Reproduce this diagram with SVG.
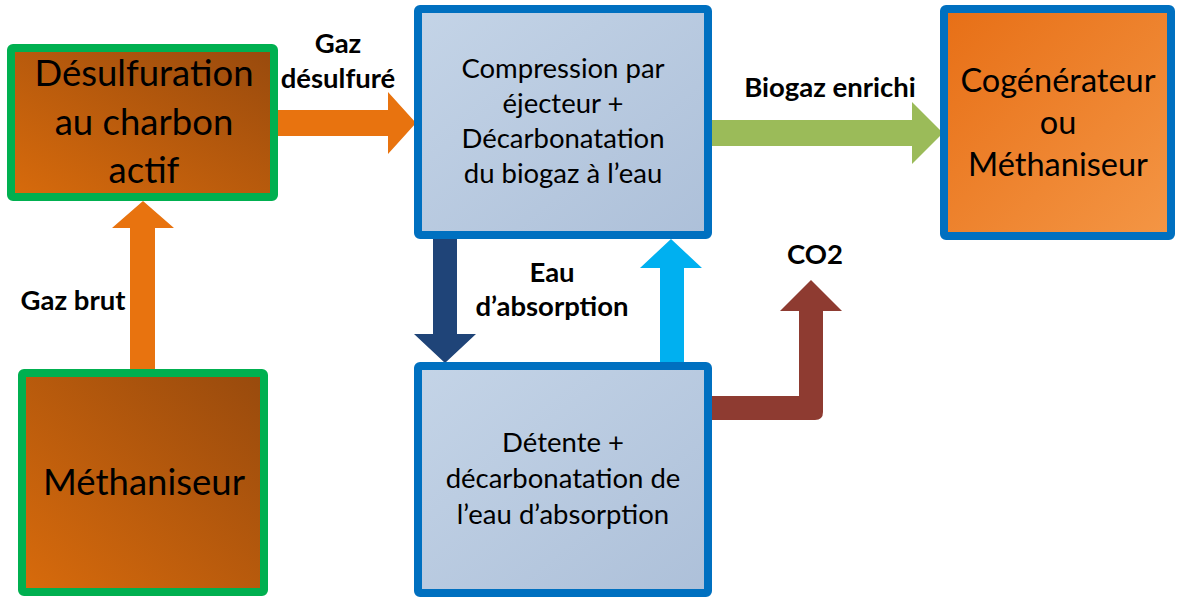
<svg xmlns="http://www.w3.org/2000/svg" width="1180" height="604" viewBox="0 0 1180 604">
<defs>
<linearGradient id="gBrown" x1="0" y1="1" x2="1" y2="0">
<stop offset="0" stop-color="#d86b0c"/>
<stop offset="1" stop-color="#984a0d"/>
</linearGradient>
<linearGradient id="gOrange" x1="0" y1="0" x2="1" y2="1">
<stop offset="0" stop-color="#e76f16"/>
<stop offset="1" stop-color="#f49645"/>
</linearGradient>
<linearGradient id="gBlue" x1="0" y1="0" x2="1" y2="1">
<stop offset="0" stop-color="#c4d4e7"/>
<stop offset="1" stop-color="#adc0d9"/>
</linearGradient>
<style>
.green{stroke:#00b050;stroke-width:8}
.blue{stroke:#0070c0;stroke-width:8}
text{font-family:Lato,"Liberation Sans",sans-serif;fill:#000;text-anchor:middle}
.big{font-size:36.5px}
.cog{font-size:32.5px}
.mid{font-size:27.5px}
.lbl{font-size:27.5px;font-weight:bold}
</style>
</defs>
<g id="connectors">
<polygon id="gaz-brut" fill="#e8730f" points="130,369 155,369 155,228 174,228 143,201 112,228 130,228"/>
<polygon id="gaz-desulfure" fill="#e8730f" points="278,110 388,110 388,92 416,123 388,154 388,136 278,136"/>
<polygon id="biogaz-enrichi" fill="#9bbb59" points="712,120 912,120 912,102 943,133 912,164 912,146 712,146"/>
<polygon id="eau-down" fill="#1f4478" points="433,239 457,239 457,334 476,334 445,363 414,334 433,334"/>
<polygon id="eau-up" fill="#00b0f0" points="660,362 684,362 684,268 702,268 671,239 640,268 660,268"/>
<path id="co2" fill="#8e3b31" d="M712,396 L799,396 L799,311 L780,311 L811,280 L842,311 L823,311 L823,412 Q823,420 815,420 L712,420 Z"/>
</g>
<g id="desulfuration">
<rect x="11" y="48" width="263" height="149" rx="2" fill="url(#gBrown)" class="green"/>
<text class="big" x="144" y="86">Désulfuration</text>
<text class="big" x="144" y="135">au charbon</text>
<text class="big" x="144" y="183">actif</text>
</g>
<g id="methaniseur">
<rect x="22" y="373" width="242" height="219" rx="2" fill="url(#gBrown)" class="green"/>
<text class="big" x="144" y="495">Méthaniseur</text>
</g>
<g id="compression">
<rect x="418" y="9" width="290" height="226" rx="2" fill="url(#gBlue)" class="blue"/>
<text class="mid" x="563" y="78">Compression par</text>
<text class="mid" x="563" y="113">éjecteur +</text>
<text class="mid" x="563" y="148">Décarbonatation</text>
<text class="mid" x="563" y="183">du biogaz à l’eau</text>
</g>
<g id="cogenerateur">
<rect x="944" y="9" width="227" height="227" rx="2" fill="url(#gOrange)" class="blue"/>
<text class="cog" x="1058" y="92">Cogénérateur</text>
<text class="cog" x="1058" y="134">ou</text>
<text class="cog" x="1058" y="176">Méthaniseur</text>
</g>
<g id="detente">
<rect x="418" y="366" width="290" height="227" rx="2" fill="url(#gBlue)" class="blue"/>
<text class="mid" x="563" y="452">Détente +</text>
<text class="mid" x="563" y="488">décarbonatation de</text>
<text class="mid" x="563" y="524">l’eau d’absorption</text>
</g>
<g id="labels">
<text class="lbl" x="338" y="53">Gaz</text>
<text class="lbl" x="338" y="88">désulfuré</text>
<text class="lbl" x="830" y="97">Biogaz enrichi</text>
<text class="lbl" x="815" y="264">CO2</text>
<text class="lbl" x="552" y="282">Eau</text>
<text class="lbl" x="552" y="316">d’absorption</text>
<text class="lbl" x="73" y="310">Gaz brut</text>
</g>
</svg>
